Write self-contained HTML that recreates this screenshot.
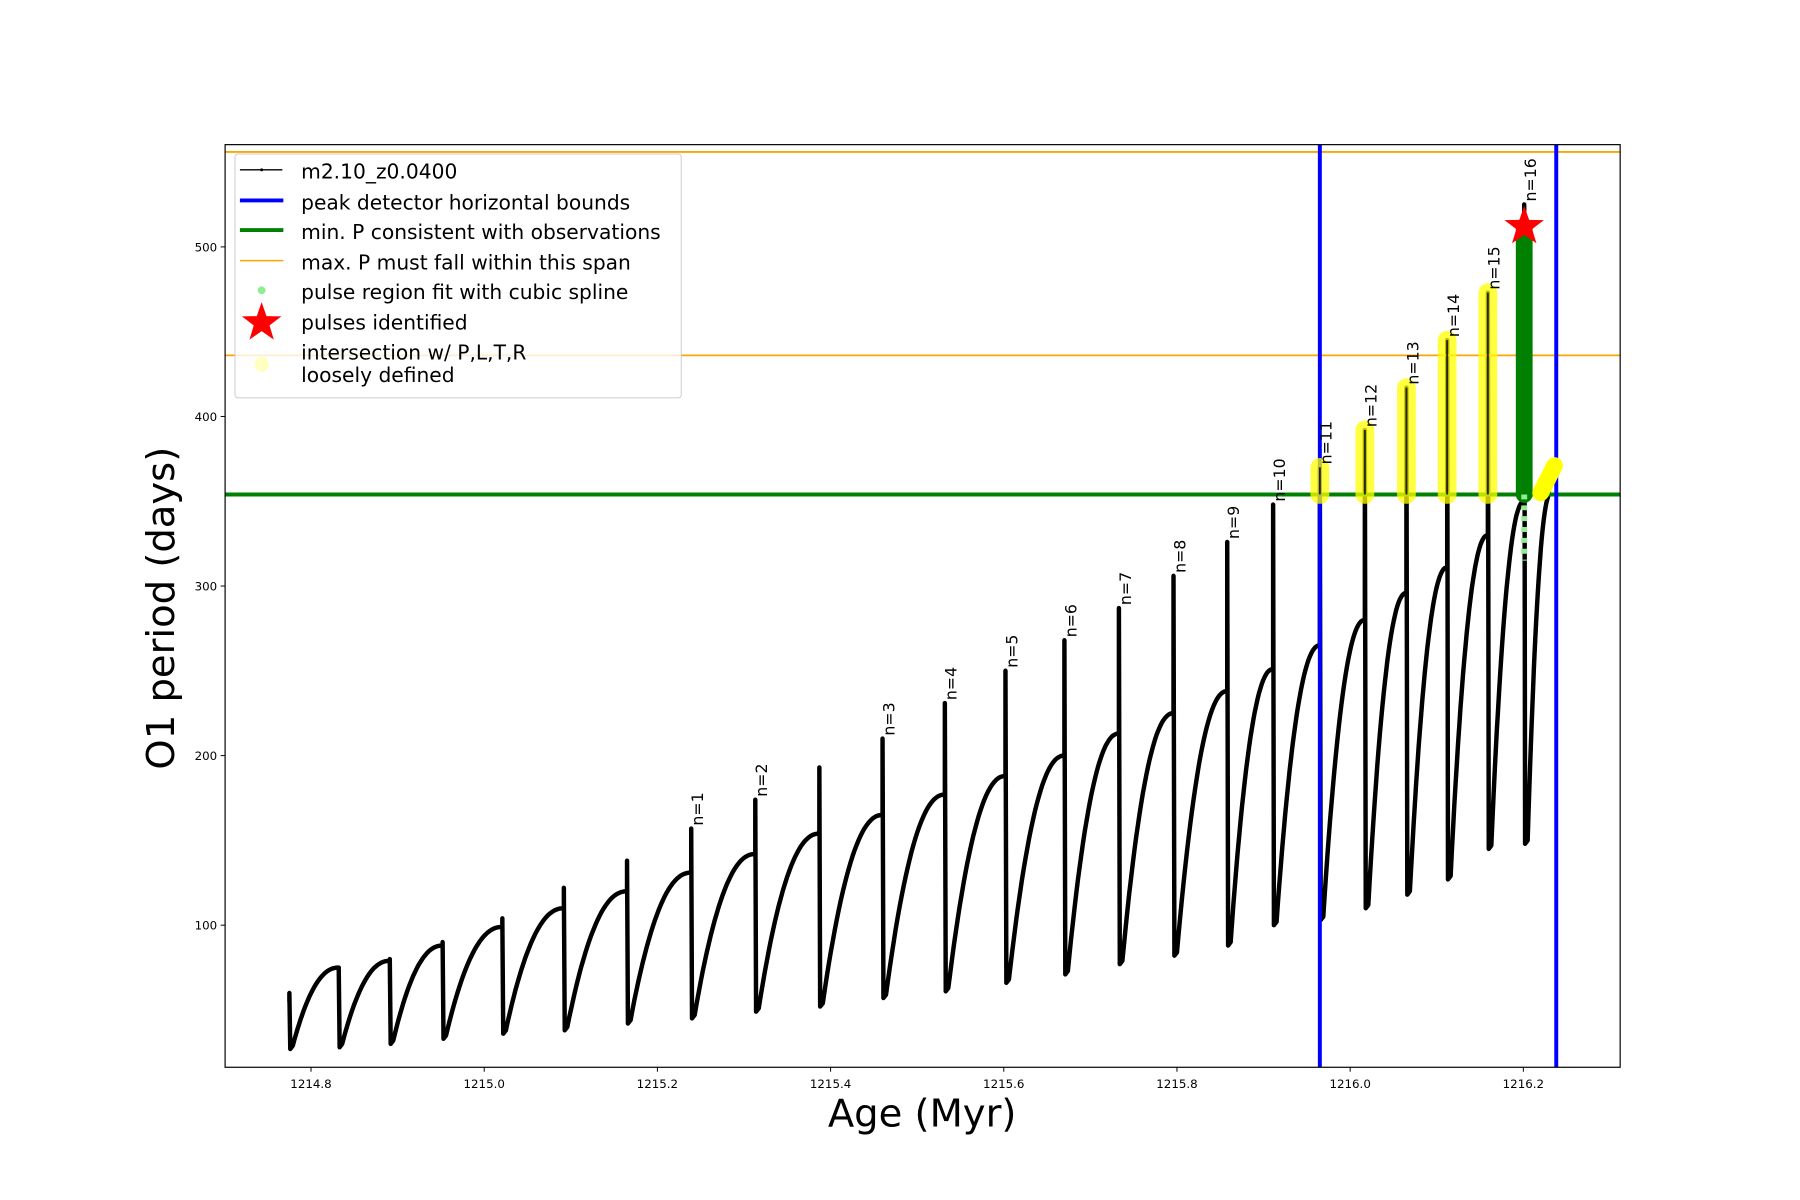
<!DOCTYPE html>
<html><head><meta charset="utf-8"><style>
html,body{margin:0;padding:0;background:#fff;}
svg{display:block;font-family:"DejaVu Sans","Liberation Sans",sans-serif;}
</style></head><body>
<svg id="chart" width="1800" height="1200" viewBox="0 0 1800 1200" xmlns="http://www.w3.org/2000/svg">
<rect x="0" y="0" width="1800" height="1200" fill="#fff"/>
<g transform="scale(0.9873)">
<g id="plot"></g>
<rect x="228" y="146.5" width="1413" height="934.5" fill="none" stroke="#000" stroke-width="1.2"/>
<g id="ticks"></g>
<text x="934" y="1141" font-size="39" text-anchor="middle">Age (Myr)</text>
<text x="0" y="0" font-size="39" text-anchor="middle" transform="translate(176,616) rotate(-90)">O1 period (days)</text>
<g>
<rect x="238" y="156" width="452" height="247" rx="3" fill="#fff" fill-opacity="0.8" stroke="#ccc"/>
<g><line x1="243" y1="172" x2="286" y2="172" stroke="#000" stroke-width="1.5"/><circle cx="265" cy="172" r="1.5"/><text x="305" y="181" font-size="20.5">m2.10_z0.0400</text></g>
<g><line x1="243" y1="203" x2="287" y2="203" stroke="#00f" stroke-width="4"/><text x="305" y="212" font-size="20.5">peak detector horizontal bounds</text></g>
<g><line x1="243" y1="233" x2="287" y2="233" stroke="#008000" stroke-width="4"/><text x="305" y="242" font-size="20.5">min. P consistent with observations</text></g>
<g><line x1="243" y1="264" x2="287" y2="264" stroke="orange" stroke-width="1.5"/><text x="305" y="273" font-size="20.5">max. P must fall within this span</text></g>
<g><circle cx="265" cy="294" r="4" fill="#90ee90"/><text x="305" y="303" font-size="20.5">pulse region fit with cubic spline</text></g>
<g><polygon id="lstar" fill="red"/><text x="305" y="334" font-size="20.5">pulses identified</text></g>
<g><circle cx="265" cy="369" r="7.5" fill="#ffff99" fill-opacity="0.6"/><text x="305" y="364" font-size="20.5">intersection w/ P,L,T,R</text><text x="305" y="387" font-size="20.5">loosely defined</text></g>
</g>
</g>
</svg>
<script>
const pulseAges=[1214.775,1214.832,1214.891,1214.952,1215.021,1215.092,1215.165,1215.239,1215.313,1215.387,1215.460,1215.532,1215.602,1215.670,1215.733,1215.796,1215.858,1215.911,1215.965,1216.017,1216.065,1216.112,1216.159,1216.201];
const spikeTops=[60,74,80,90,104,122,138,157,174,193,210,231,250,268,287,306,326,348,370,392,417,445,473,525];
const dipMins=[27,28,30,33,36,38,42,45,49,52,57,61,66,71,77,82,88,100,103,110,118,127,145,148];
const peaksBefore=[55,75,79,88,99,110,120,131,142,154,165,177,188,200,213,225,238,251,265,280,296,311,330,350];
const pulseLabels=['','','','','','','','n=1','n=2','','n=3','n=4','n=5','n=6','n=7','n=8','n=9','n=10','n=11','n=12','n=13','n=14','n=15','n=16'];
const endAge=1216.232, endVal=355;
const blueBounds=[1215.965,1216.238];
const minP=[354];
const maxPSpan=[436,556];
const starAge=[1216.201], starVal=[512];
const xTicks=[1214.8,1215.0,1215.2,1215.4,1215.6,1215.8,1216.0,1216.2];
const yTicks=[100,200,300,400,500];
const xMin=1214.7008,xMax=1216.3118,yMin=16.2,yMax=560.3;
const L=228,R=1641,T=146.5,B=1081;
const X=v=>L+(v-xMin)/(xMax-xMin)*(R-L);
const Y=v=>B-(v-yMin)/(yMax-yMin)*(B-T);
const NS='http://www.w3.org/2000/svg';
const plot=document.getElementById('plot');
function mk(tag,attrs,parent){const e=document.createElementNS(NS,tag);for(const k in attrs)e.setAttribute(k,attrs[k]);(parent||plot).appendChild(e);return e;}
const defs=mk('defs',{});const cp=mk('clipPath',{id:'clip'},defs);mk('rect',{x:L,y:T,width:R-L,height:B-T},cp);
plot.setAttribute('clip-path','url(#clip)');
let d='';
for(let i=0;i<pulseAges.length;i++){
  const t=pulseAges[i];
  const tn=i+1<pulseAges.length?pulseAges[i+1]:endAge;
  const pk=i+1<pulseAges.length?peaksBefore[i+1]:endVal;
  d+=(i===0?'M':'L')+X(t).toFixed(1)+','+Y(peaksBefore[i]).toFixed(1);
  d+='L'+X(t).toFixed(1)+','+Y(spikeTops[i]).toFixed(1);
  d+='L'+X(t+0.001).toFixed(1)+','+Y(dipMins[i]).toFixed(1);
  const t0=t+0.004;
  d+='L'+X(t0).toFixed(1)+','+Y(dipMins[i]+2).toFixed(1);
  for(let k=1;k<=30;k++){const s=k/30;const v=dipMins[i]+2+(pk-dipMins[i]-2)*(1-Math.pow(1-s,2.2));d+='L'+X(t0+(tn-t0)*s).toFixed(1)+','+Y(v).toFixed(1);}
}
const curve=mk('path',{d:d,fill:'none',stroke:'#000','stroke-width':4.5,'stroke-linejoin':'round'});


maxPSpan.forEach(v=>{const l=mk('line',{x1:L,x2:R,y1:Y(v),y2:Y(v),stroke:'orange','stroke-width':1.8});

});
minP.forEach(v=>{const l=mk('line',{x1:L,x2:R,y1:Y(v),y2:Y(v),stroke:'#008000','stroke-width':4});

});
blueBounds.forEach(v=>{const l=mk('line',{x1:X(v),x2:X(v),y1:T,y2:B,stroke:'#00f','stroke-width':4});

});
for(let i=18;i<pulseAges.length;i++){
  const isLast=i===pulseAges.length-1;
  const top=isLast?starVal[0]:spikeTops[i];
  const b=mk('line',{x1:X(pulseAges[i]),x2:X(pulseAges[i]),y1:Y(minP[0]),y2:Y(top),stroke:isLast?'#008000':'#ffff00','stroke-width':isLast?17:19,'stroke-linecap':'round','stroke-opacity':isLast?1:0.75});
  
  
  const c=mk('line',{x1:X(pulseAges[i]),x2:X(pulseAges[i]),y1:Y(minP[0]),y2:Y(top),stroke:'#000','stroke-width':2,'stroke-opacity':isLast?0:0.8});
  
  
}
const ys=mk('line',{x1:X(endAge-0.012),y1:Y(endVal),x2:X(endAge+0.004),y2:Y(endVal+16),stroke:'#ffff00','stroke-width':17,'stroke-linecap':'round'});


const sp=mk('line',{x1:X(pulseAges[23]),x2:X(pulseAges[23]),y1:Y(minP[0]),y2:Y(315),stroke:'#90ee90','stroke-width':6,'stroke-dasharray':'5,6'});


function starPts(cx,cy,r){let p=[];for(let k=0;k<10;k++){const a=-Math.PI/2+k*Math.PI/5;const rr=k%2?r*0.4:r;p.push((cx+rr*Math.cos(a)).toFixed(1)+','+(cy+rr*Math.sin(a)).toFixed(1));}return p.join(' ');}
const st=mk('polygon',{points:starPts(X(starAge[0]),Y(starVal[0]),21),fill:'red'});


document.getElementById('lstar').setAttribute('points',starPts(265,327,21));
for(let i=0;i<pulseAges.length;i++){
  if(!pulseLabels[i])continue;
  const x=X(pulseAges[i])+12, y=Y(spikeTops[i])-3;
  const t=mk('text',{x:0,y:0,'font-size':16,transform:`translate(${x.toFixed(1)},${y.toFixed(1)}) rotate(-90)`});
  t.textContent=pulseLabels[i];
  
  
}
const tg=document.getElementById('ticks');
xTicks.forEach(v=>{const x=X(v);mk('line',{x1:x,x2:x,y1:B,y2:B+4.5,stroke:'#000'},tg);
const t=mk('text',{x:x,y:B+21,'font-size':12,'text-anchor':'middle'},tg);t.textContent=v.toFixed(1);

});
yTicks.forEach(v=>{const y=Y(v);mk('line',{x1:L-4.5,x2:L,y1:y,y2:y,stroke:'#000'},tg);
const t=mk('text',{x:L-8,y:y+4.5,'font-size':12,'text-anchor':'end'},tg);t.textContent=v;

});
</script>
</body></html>
